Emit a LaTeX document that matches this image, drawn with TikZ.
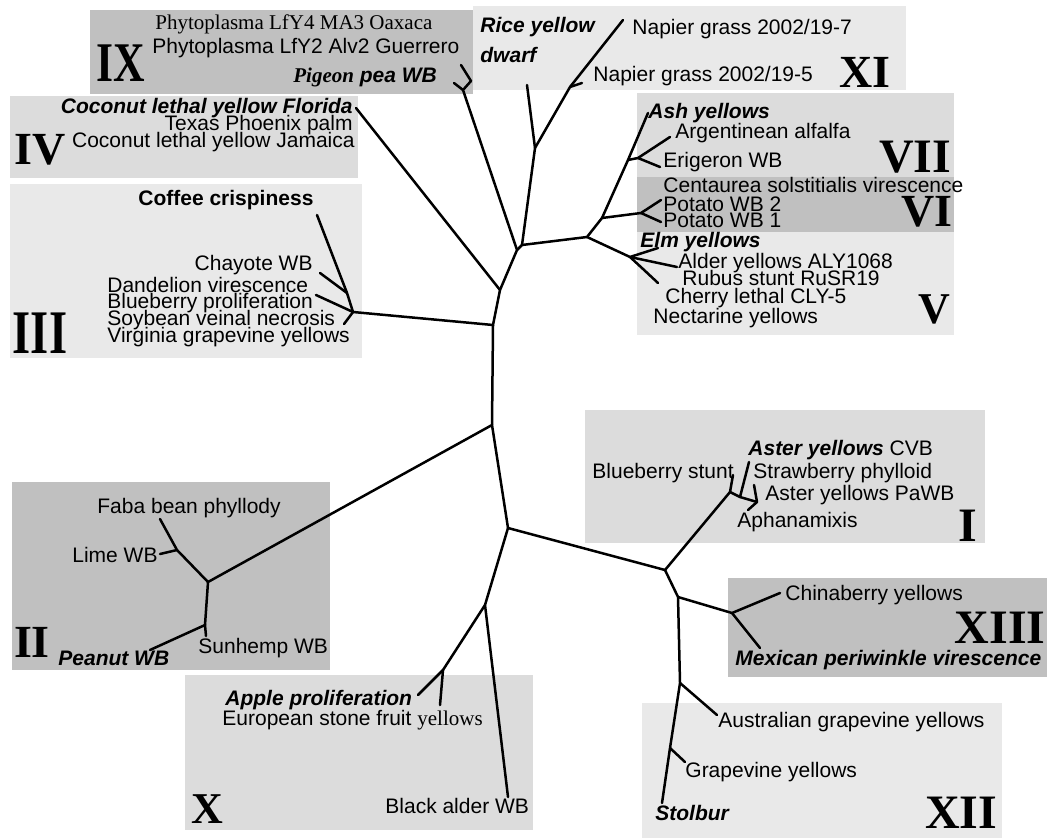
\documentclass[tikz,border=0pt]{standalone}
\usepackage{fontspec}
\setmainfont{Liberation Serif}
\setsansfont{Liberation Sans}
\usepackage{graphicx}
\usetikzlibrary{positioning}
\definecolor{boxdark}{RGB}{192,192,192}
\definecolor{boxmid}{RGB}{220,220,220}
\definecolor{boxlight}{RGB}{233,233,233}
\tikzset{
  grpD/.style={fill=boxdark, draw=none},
  grpM/.style={fill=boxmid, draw=none},
  grpL/.style={fill=boxlight, draw=none},
  taxon/.style={inner sep=0pt, anchor=west, text height=7.6pt, text depth=2.2pt,
                font=\sffamily\fontsize{10.5}{8.3}\selectfont},
  taxonB/.style={taxon, font=\sffamily\bfseries\itshape\fontsize{10.5}{8.3}\selectfont},
  grpnum/.style={inner sep=0pt, font=\rmfamily\bfseries\fontsize{#1}{#1}\selectfont},
  branch/.style={line width=1.25pt, line cap=round, line join=round},
}

\begin{document}
\begin{tikzpicture}[x=0.5pt, y=-0.5pt]
    \useasboundingbox (0,0) rectangle (1047,839);

    % ─── Group boxes ───────────────────────────────────────────────────
    \fill[grpD] (90,10)   rectangle (473,94);    % IX
    \fill[grpL] (473,6)   rectangle (906,90);    % XI
    \fill[grpM] (10,96)   rectangle (358,178);   % IV
    \fill[grpL] (10,184)  rectangle (362,358);   % III
    \fill[grpM] (637,93)  rectangle (954,177);   % VII
    \fill[grpD] (637,177) rectangle (954,232);   % VI
    \fill[grpL] (637,232) rectangle (954,335);   % V
    \fill[grpM] (585,410) rectangle (985,543);   % I
    \fill[grpD] (12,482)  rectangle (330,670);   % II
    \fill[grpD] (728,578) rectangle (1047,677);  % XIII
    \fill[grpM] (185,675) rectangle (533,830);   % X
    \fill[grpL] (642,703) rectangle (1002,838);  % XII

    % ─── Group numerals ────────────────────────────────────────────────
    \node[grpnum=28] (numIX)  at (121,63)  {\scalebox{0.78}[1]{IX}};
    \node[grpnum=23] (numXI)  at (865,72)  {XI};
    \node[grpnum=23] (numIV)  at (40,150)  {IV};
    \node[grpnum=31] (numIII) at (40,333)  {\scalebox{0.75}[1]{III}};
    \node[grpnum=24] (numVII) at (915,157) {VII};
    \node[grpnum=23] (numVI)  at (927,212) {VI};
    \node[grpnum=22] (numV)   at (934,309) {V};
    \node[grpnum=24] (numI)   at (968,526) {I};
    \node[grpnum=23] (numII)  at (32,642)  {II};
    \node[grpnum=22] (numX)   at (207,809) {X};
    \node[grpnum=24, anchor=east] (numXIII) at (1046,628) {XIII};
    \node[grpnum=24] (numXII) at (961,813) {XII};

    % ─── Taxon labels ──────────────────────────────────────────────────
    % IX
    \node[taxon, font=\rmfamily\fontsize{10.5}{8.3}\selectfont] (oax) at (155,24) {Phytoplasma LfY4 MA3 Oaxaca};
    \node[taxon] (guer) at (152,48) {Phytoplasma LfY2 Alv2 Guerrero};
    \node[taxonB] (pig) at (293,77) {{\rmfamily Pigeon} pea WB};
    % XI
    \node[taxonB] (rice1) at (480,27) {Rice yellow};
    \node[taxonB] (rice2) at (480,57) {dwarf};
    \node[taxon] (nap7) at (632,29) {Napier grass 2002/19-7};
    \node[taxon] (nap5) at (593,76) {Napier grass 2002/19-5};
    % IV
    \node[taxonB, anchor=east] (clyF) at (353,108) {Coconut lethal yellow Florida};
    \node[taxon, anchor=east] (txp) at (353,125) {Texas Phoenix palm};
    \node[taxon, anchor=east] (clyJ) at (355,142) {Coconut lethal yellow Jamaica};
    % III
    \node[taxon, font=\sffamily\bfseries\fontsize{10.5}{8.3}\selectfont] (cof) at (138,200) {Coffee crispiness};
    \node[taxon, anchor=east] (chay) at (313,265) {Chayote WB};
    \node[taxon] (dand) at (107,287) {Dandelion virescence};
    \node[taxon] (blpr) at (107,303) {Blueberry proliferation};
    \node[taxon] (soy)  at (107,320) {Soybean veinal necrosis};
    \node[taxon] (virg) at (107,337) {Virginia grapevine yellows};
    % VII, VI, V
    \node[taxonB] (ash) at (648,113) {Ash yellows};
    \node[taxon] (arg)  at (675,133) {Argentinean alfalfa};
    \node[taxon] (eri)  at (663,162) {Erigeron WB};
    \node[taxon] (cent) at (663,187) {Centaurea solstitialis virescence};
    \node[taxon] (pot2) at (663,206) {Potato WB 2};
    \node[taxon] (pot1) at (663,222) {Potato WB 1};
    \node[taxonB] (elm) at (640,242) {Elm yellows};
    \node[taxon] (ald)  at (678,263) {Alder yellows ALY1068};
    \node[taxon] (rub)  at (682,280) {Rubus stunt RuSR19};
    \node[taxon] (cher) at (665,298) {Cherry lethal CLY-5};
    \node[taxon] (nect) at (653,318) {Nectarine yellows};
    % I
    \node[taxon] (astC) at (748,450) {\textbf{\textit{Aster yellows}} CVB};
    \node[taxon] (bst)  at (592,473) {Blueberry stunt};
    \node[taxon] (str)  at (753,473) {Strawberry phylloid};
    \node[taxon] (astP) at (765,495) {Aster yellows PaWB};
    \node[taxon] (aph)  at (737,522) {Aphanamixis};
    % II
    \node[taxon] (faba) at (97,508)  {Faba bean phyllody};
    \node[taxon] (lime) at (72,557)  {Lime WB};
    \node[taxonB] (pea) at (58,660)  {Peanut WB};
    \node[taxon] (sun)  at (198,648) {Sunhemp WB};
    % X
    \node[taxonB] (app) at (225,700) {Apple proliferation};
    \node[taxon] (eur)  at (222,720) {European stone fruit {\rmfamily yellows}};
    \node[taxon] (bla)  at (385,808) {Black alder WB};
    % XIII, XII
    \node[taxon] (chi)  at (785,595) {Chinaberry yellows};
    \node[taxonB] (mex) at (735,660) {Mexican periwinkle virescence};
    \node[taxon] (aus)  at (718,722) {Australian grapevine yellows};
    \node[taxon] (gra)  at (685,772) {Grapevine yellows};
    \node[taxonB] (sto) at (655,815) {Stolbur};

    % ─── Tree: internal nodes ──────────────────────────────────────────
    \coordinate (nPg)   at (463,90);
    \coordinate (nPg2)  at (471,81);
    \coordinate (nB)    at (517,250);
    \coordinate (nA)    at (522,245);
    \coordinate (nRice) at (535,148);
    \coordinate (nNap)  at (570,87);
    \coordinate (nT)    at (587,237);
    \coordinate (nU)    at (602,218);
    \coordinate (nVII)  at (628,160);
    \coordinate (nVII2) at (638,158);
    \coordinate (nVI)   at (641,213);
    \coordinate (nV)    at (630,257);
    \coordinate (nV2)   at (643,269);
    \coordinate (nC)    at (500,290);
    \coordinate (nD)    at (493,325);
    \coordinate (nIII)  at (353,312);
    \coordinate (nIII2) at (347,293);
    \coordinate (nF)    at (492,425);
    \coordinate (nII)   at (208,582);
    \coordinate (nLime) at (177,550);
    \coordinate (nPea)  at (205,625);
    \coordinate (nG)    at (508,528);
    \coordinate (nK)    at (485,605);
    \coordinate (nAp)   at (443,670);
    \coordinate (nH)    at (665,570);
    \coordinate (nI)    at (730,492);
    \coordinate (nI1)   at (740,497);
    \coordinate (nI2)   at (757,502);
    \coordinate (nJ)    at (678,597);
    \coordinate (nXIII) at (732,613);
    \coordinate (nR)    at (680,683);
    \coordinate (nS)    at (670,748);

    % ─── Tree: tips ────────────────────────────────────────────────────
    \coordinate (tPig)  at (454,83);
    \coordinate (tGue)  at (461,65);
    \coordinate (tRice) at (527,85);
    \coordinate (tNap7) at (623,20);
    \coordinate (tNap5) at (582,83);
    \coordinate (tAsh)  at (648,113);
    \coordinate (tArg)  at (670,137);
    \coordinate (tEri)  at (660,167);
    \coordinate (tPot2) at (661,200);
    \coordinate (tPot1) at (661,222);
    \coordinate (tElm)  at (658,248);
    \coordinate (tAld)  at (677,267);
    \coordinate (tRub)  at (658,283);
    \coordinate (tFlo)  at (356,108);
    \coordinate (tCof)  at (317,215);
    \coordinate (tCha)  at (320,273);
    \coordinate (tDan)  at (316,295);
    \coordinate (tSoy)  at (344,324);
    \coordinate (tLime) at (160,554);
    \coordinate (tFaba) at (160,519);
    \coordinate (tSun)  at (206,636);
    \coordinate (tPea)  at (150,650);
    \coordinate (tBla)  at (508,797);
    \coordinate (tApp)  at (418,695);
    \coordinate (tEur)  at (440,705);
    \coordinate (tBst)  at (733,475);
    \coordinate (tStr)  at (749,462);
    \coordinate (tPaw)  at (754,485);
    \coordinate (tAph)  at (748,510);
    \coordinate (tChi)  at (780,593);
    \coordinate (tMex)  at (760,648);
    \coordinate (tAus)  at (717,715);
    \coordinate (tGra)  at (685,762);
    \coordinate (tSto)  at (662,803);

    % ─── Tree: branches ────────────────────────────────────────────────
    % backbone
    \draw[branch] (tGue) -- (nPg2) -- (nPg) -- (nB) -- (nC) -- (nD) -- (nF) -- (nG)
                  -- (nH) -- (nJ) -- (nR) -- (nS) -- (tSto);
    \draw[branch] (tPig) -- (nPg);
    % XI and VII / VI / V
    \draw[branch] (nB) -- (nA) -- (nT) -- (nU) -- (nVII) -- (tAsh);
    \draw[branch] (nA) -- (nRice) -- (tRice);
    \draw[branch] (nRice) -- (nNap) -- (tNap7);
    \draw[branch] (nNap) -- (tNap5);
    \draw[branch] (nVII) -- (nVII2) -- (tArg);
    \draw[branch] (nVII2) -- (tEri);
    \draw[branch] (nU) -- (nVI) -- (tPot2);
    \draw[branch] (nVI) -- (tPot1);
    \draw[branch] (nT) -- (nV) -- (tElm);
    \draw[branch] (nV) -- (tAld);
    \draw[branch] (nV) -- (nV2) -- (tRub);
    % IV and III
    \draw[branch] (nC) -- (tFlo);
    \draw[branch] (nD) -- (nIII) -- (tDan);
    \draw[branch] (nIII) -- (tSoy);
    \draw[branch] (nIII) -- (nIII2) -- (tCof);
    \draw[branch] (nIII2) -- (tCha);
    % II
    \draw[branch] (nF) -- (nII) -- (nLime) -- (tFaba);
    \draw[branch] (nLime) -- (tLime);
    \draw[branch] (nII) -- (nPea) -- (tSun);
    \draw[branch] (nPea) -- (tPea);
    % X
    \draw[branch] (nG) -- (nK) -- (tBla);
    \draw[branch] (nK) -- (nAp) -- (tApp);
    \draw[branch] (nAp) -- (tEur);
    % I
    \draw[branch] (nH) -- (nI) -- (tBst);
    \draw[branch] (nI) -- (nI1) -- (tStr);
    \draw[branch] (nI1) -- (nI2) -- (tPaw);
    \draw[branch] (nI2) -- (tAph);
    % XIII and XII
    \draw[branch] (nJ) -- (nXIII) -- (tChi);
    \draw[branch] (nXIII) -- (tMex);
    \draw[branch] (nR) -- (tAus);
    \draw[branch] (nS) -- (tGra);

\end{tikzpicture}
\end{document}
